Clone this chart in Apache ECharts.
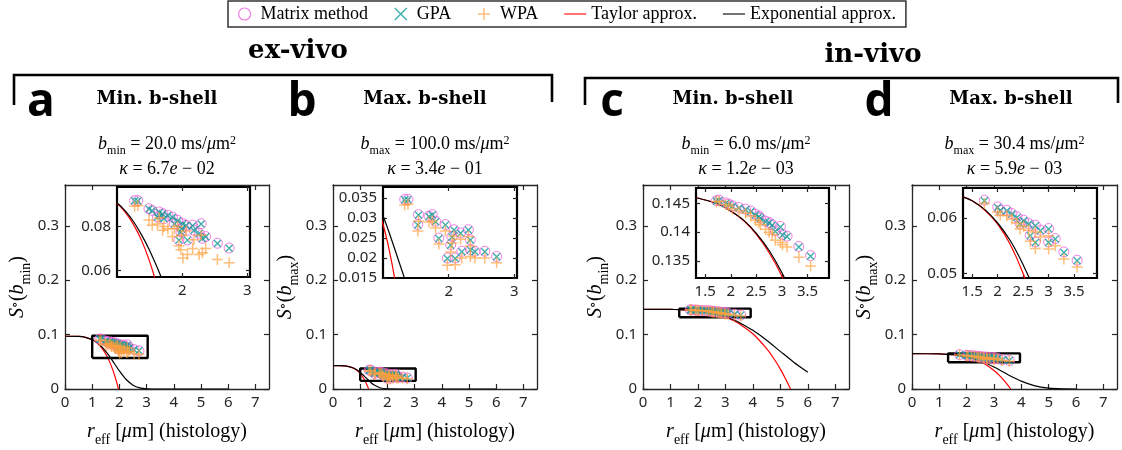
<!DOCTYPE html>
<html><head><meta charset="utf-8">
<script src="https://cdn.jsdelivr.net/npm/echarts@6/dist/echarts.min.js"></script>
<style>html,body{margin:0;padding:0;background:#fff}#c{width:1122px;height:450px}</style>
</head><body><div id="c"></div>
<script>
// ---------- DATA ----------
const legendNames = ['Matrix method', 'GPA', 'WPA', 'Taylor approx.', 'Exponential approx.'];

// panel a (ex-vivo, min b-shell)
const rA   = [1.27,1.32,1.49,1.54,1.62,1.65,1.70,1.72,1.78,1.85,1.88,1.93,1.95,1.98,1.99,2.01,2.06,2.08,2.16,2.18,2.26,2.29,2.31,2.36,2.54,2.72];
const mmA  = [0.0918,0.0918,0.0881,0.0873,0.0843,0.0866,0.0858,0.0836,0.0851,0.0843,0.0813,0.0828,0.0739,0.0776,0.0790,0.0813,0.0806,0.0739,0.0806,0.0783,0.0769,0.0813,0.0746,0.0754,0.0724,0.0702];
const gpaA = [0.0917,0.0916,0.0880,0.0872,0.0842,0.0864,0.0857,0.0835,0.0850,0.0842,0.0812,0.0826,0.0738,0.0775,0.0789,0.0811,0.0805,0.0738,0.0804,0.0782,0.0768,0.0811,0.0745,0.0753,0.0723,0.0701];
const wpaA = [0.0892,0.0896,0.0830,0.0806,0.0812,0.0840,0.0783,0.0800,0.0790,0.0754,0.0790,0.0800,0.0712,0.0694,0.0760,0.0657,0.0780,0.0672,0.0700,0.0740,0.0672,0.0760,0.0680,0.0700,0.0650,0.0635];
const taylorRA = [0,0.5,0.75,1,1.125,1.25,1.375,1.5,1.625,1.75,1.875,1.965];
const taylorSA = [0.0970,0.0966,0.0949,0.0905,0.0866,0.0811,0.0738,0.0641,0.0517,0.0360,0.0167,0];
const expRA = [0,0.5,0.75,1,1.125,1.25,1.375,1.5,1.625,1.75,2,2.25,2.5,2.75,3,3.5,4,5,6];
const expSA = [0.0970,0.0966,0.0950,0.0907,0.0871,0.0824,0.0763,0.0691,0.0608,0.0517,0.0332,0.0174,0.0071,0.0021,0.0004,0,0,0,0];

// panel b (ex-vivo, max b-shell)
const rB   = [1.33,1.38,1.53,1.54,1.70,1.75,1.80,1.85,1.95,1.98,2.03,2.05,2.08,2.10,2.18,2.20,2.30,2.33,2.33,2.40,2.55,2.73];
const mmB  = [0.0347,0.0347,0.0284,0.0309,0.0305,0.0309,0.0292,0.0250,0.0284,0.0200,0.0233,0.0254,0.0271,0.0200,0.0263,0.0217,0.0271,0.0246,0.0221,0.0217,0.0217,0.0204];
const gpaB = [0.0346,0.0346,0.0283,0.0308,0.0304,0.0308,0.0291,0.0249,0.0283,0.0199,0.0232,0.0253,0.0270,0.0199,0.0262,0.0216,0.0270,0.0245,0.0220,0.0216,0.0216,0.0203];
const wpaB = [0.0333,0.0335,0.0268,0.0292,0.0290,0.0293,0.0275,0.0235,0.0268,0.0182,0.0215,0.0238,0.0255,0.0183,0.0247,0.0200,0.0254,0.0230,0.0204,0.0200,0.0200,0.0188];
const taylorRB = [0,0.25,0.5,0.75,0.875,1,1.1,1.2,1.31];
const taylorSB = [0.0430,0.0429,0.0421,0.0384,0.0344,0.0284,0.0216,0.0127,0];
const expRB = [0,0.25,0.5,0.75,0.875,1,1.1,1.2,1.31,1.4,1.5,1.75,2,2.5,6];
const expSB = [0.0430,0.0429,0.0421,0.0386,0.0352,0.0306,0.0261,0.0212,0.0158,0.0116,0.0077,0.0018,0.0002,0,0];

// panel c (in-vivo, min b-shell)
const rC   = [1.72,1.77,1.90,1.96,2.03,2.16,2.29,2.39,2.48,2.55,2.58,2.68,2.75,2.81,2.87,2.97,3.01,3.10,3.33,3.56];
const mmC  = [0.1455,0.1456,0.1451,0.1449,0.1446,0.1443,0.1440,0.1437,0.1431,0.1428,0.1425,0.1419,0.1417,0.1413,0.1402,0.1410,0.1396,0.1393,0.1375,0.1359];
const gpaC = [0.1454,0.1455,0.1450,0.1448,0.1445,0.1442,0.1439,0.1436,0.1430,0.1427,0.1424,0.1418,0.1416,0.1412,0.1401,0.1409,0.1395,0.1392,0.1374,0.1358];
const wpaC = [0.1453,0.1454,0.1448,0.1445,0.1441,0.1437,0.1433,0.1428,0.1421,0.1417,0.1413,0.1405,0.1400,0.1396,0.1386,0.1382,0.1378,0.1374,0.1356,0.1341];
const taylorRC = [0,1,1.32,1.5,1.75,2,2.25,2.5,2.75,3,3.25,3.5,4,4.5,4.75,5,5.25,5.37];
const taylorSC = [0.1465,0.1463,0.1460,0.1456,0.1449,0.1437,0.1420,0.1396,0.1364,0.1323,0.1269,0.1201,0.1015,0.0744,0.0570,0.0366,0.0130,0];
const expRC = [0,1,1.32,1.5,1.75,2,2.25,2.5,2.75,3,3.25,3.5,4,4.5,5,5.5,6];
const expSC = [0.1465,0.1463,0.1460,0.1456,0.1449,0.1437,0.1421,0.1398,0.1368,0.1329,0.1281,0.1224,0.1078,0.0896,0.0692,0.0489,0.0309];

// panel d (in-vivo, max b-shell)
const rD   = [1.74,2.00,2.05,2.18,2.28,2.38,2.44,2.51,2.61,2.64,2.74,2.74,2.84,3.00,3.00,3.13,3.30,3.56];
const mmD  = [0.0632,0.0620,0.0614,0.0614,0.0608,0.0602,0.0590,0.0596,0.0590,0.0569,0.0587,0.0557,0.0578,0.0581,0.0557,0.0563,0.0539,0.0524];
const gpaD = [0.0631,0.0619,0.0613,0.0613,0.0607,0.0601,0.0589,0.0595,0.0589,0.0568,0.0586,0.0556,0.0577,0.0580,0.0556,0.0562,0.0538,0.0523];
const wpaD = [0.0626,0.0611,0.0605,0.0604,0.0598,0.0591,0.0580,0.0585,0.0578,0.0558,0.0575,0.0545,0.0566,0.0568,0.0544,0.0550,0.0526,0.0512];
const taylorRD = [0,1,1.32,1.5,1.75,2,2.25,2.5,2.75,3,3.25,3.5,3.61];
const taylorSD = [0.0650,0.0646,0.0638,0.0631,0.0614,0.0589,0.0552,0.0500,0.0431,0.0339,0.0222,0.0074,0];
const expRD = [0,1,1.32,1.5,1.75,2,2.25,2.5,2.75,3,3.25,3.5,3.75,4,4.5,5,5.5,6];
const expSD = [0.0650,0.0646,0.0638,0.0631,0.0615,0.0591,0.0559,0.0516,0.0464,0.0403,0.0337,0.0268,0.0202,0.0144,0.0058,0.0016,0.0003,0];

// tick labels
const xTicksMain = [0,1,2,3,4,5,6,7];
const yTicksMain = [0,0.1,0.2,0.3];
const insetXTicks = [[2,3],[2,3],[1.5,2,2.5,3,3.5],[1.5,2,2.5,3,3.5]];
const insetYTicks = [[0.06,0.08],[0.015,0.02,0.025,0.03,0.035],[0.135,0.14,0.145],[0.05,0.06]];
// inset (zoom) axis ranges
const insetXRange = [[1.0,3.04],[1.0,3.04],[1.32,3.92],[1.32,3.95]];
const insetYRange = [[0.057,0.098],[0.015,0.0378],[0.132,0.1477],[0.0492,0.0654]];

// text
const bLabels = ['min','max','min','max'];
const bValues = ['20.0','100.0','6.0','30.4'];
const kappaValues = ['6.7','3.4','1.2','5.9'];
const kappaExps = ['02','01','03','03'];
const shellTitles = ['Min. b-shell','Max. b-shell','Min. b-shell','Max. b-shell'];
const panelLetters = ['a','b','c','d'];
const groupTitles = ['ex-vivo','in-vivo'];

// ---------- LAYOUT / STYLE ----------
const SERIF = "'Liberation Serif','DejaVu Serif',serif";
const WSERIF = "'DejaVu Serif','Liberation Serif',serif";
const SANS = "'Noto Sans','DejaVu Sans',sans-serif";
const AX = '#262626';
const C_MM = '#f060dc', C_GPA = '#119a9a', C_WPA = 'rgba(255,160,60,0.85)';
const SYM_X = 'path://M0,0L10,10M10,0L0,10';
const SYM_P = 'path://M5,0L5,10M0,5L10,5';
const SYM_LINE = 'path://M0,0H44V2.2H0Z';

const mainGrids = [
  {left:65, top:185, width:204, height:204},
  {left:333, top:185, width:204, height:204},
  {left:643, top:185, width:206, height:204},
  {left:912, top:185, width:205, height:204}
];
const insetGrids = [
  {left:117, top:187, width:133, height:90},
  {left:383, top:187, width:134, height:91},
  {left:696, top:188, width:133, height:90},
  {left:963, top:188, width:134, height:90}
];

function rich(size){
  const s = Math.round(size*0.68);
  return {
    n:{fontFamily:SERIF,fontSize:size,color:'#000',verticalAlign:'top',lineHeight:size+2},
    i:{fontFamily:SERIF,fontSize:size,fontStyle:'italic',color:'#000',verticalAlign:'top',lineHeight:size+2},
    sub:{fontFamily:SERIF,fontSize:s,color:'#000',verticalAlign:'top',lineHeight:s,padding:[Math.round(size*0.55),0,0,0]},
    sup:{fontFamily:SERIF,fontSize:s,color:'#000',verticalAlign:'top',lineHeight:s,padding:[0,0,0,0]}
  };
}
const fmt = v => String(parseFloat((+v).toFixed(4)));
const zip = (a,b) => a.map((x,i)=>[x,b[i]]);

const panels = [
  {r:rA,mm:mmA,gpa:gpaA,wpa:wpaA,tR:taylorRA,tS:taylorSA,eR:expRA,eS:expSA},
  {r:rB,mm:mmB,gpa:gpaB,wpa:wpaB,tR:taylorRB,tS:taylorSB,eR:expRB,eS:expSB},
  {r:rC,mm:mmC,gpa:gpaC,wpa:wpaC,tR:taylorRC,tS:taylorSC,eR:expRC,eS:expSC},
  {r:rD,mm:mmD,gpa:gpaD,wpa:wpaD,tR:taylorRD,tS:taylorSD,eR:expRD,eS:expSD}
];

const grid = [], xAxis = [], yAxis = [], series = [];
mainGrids.forEach(g => grid.push(Object.assign({show:false}, g)));
insetGrids.forEach(g => grid.push(Object.assign({show:true, backgroundColor:'#fff', borderColor:'#000', borderWidth:2.2, z:5}, g)));

function axisPair(dim, gi, min, max, ticks, isInset, withName){
  const col = isInset ? '#000' : AX;
  const lw = isInset ? 2 : 1.3;
  const base = {
    type:'value', gridIndex:gi, min:min, max:max, z: isInset ? 6 : 1,
    splitLine:{show:false},
    axisLine:{show:true, onZero:false, lineStyle:{color:col, width:lw}},
    axisTick:{show:true, inside:true, length:isInset?4:5, customValues:ticks, lineStyle:{color:AX, width:1.2}}
  };
  const prim = Object.assign({}, base, {
    position: dim==='x' ? 'bottom' : 'left',
    axisLabel:{show:true, customValues:ticks, formatter:fmt, fontFamily:SANS, fontSize:15, color:AX, margin:6}
  });
  if (withName) Object.assign(prim, withName);
  const mirror = Object.assign({}, base, {
    position: dim==='x' ? 'top' : 'right',
    axisLabel:{show:false}
  });
  return [prim, mirror];
}

for (let p=0;p<4;p++){
  const xname = {name:'{i|r}{sub|eff}{n| [}{i|μ}{n|m] (histology)}', nameLocation:'middle', nameGap:33,
    nameTextStyle:{rich:rich(20)}};
  const yname = {name:'{i|S}{sup|∘}{n|(}{i|b}{sub|'+bLabels[p]+'}{n|)}', nameLocation:'middle', nameGap:35, nameRotate:90,
    nameTextStyle:{rich:rich(20)}};
  xAxis.push(...axisPair('x', p, 0, 7.5, xTicksMain, false, xname));
  yAxis.push(...axisPair('y', p, 0, 0.375, yTicksMain, false, yname));
}
for (let p=0;p<4;p++){
  xAxis.push(...axisPair('x', p+4, insetXRange[p][0], insetXRange[p][1], insetXTicks[p], true, null));
  yAxis.push(...axisPair('y', p+4, insetYRange[p][0], insetYRange[p][1], insetYTicks[p], true, null));
}

for (let p=0;p<4;p++){
  const d = panels[p];
  [p, p+4].forEach(gi => {
    const ai = gi*2;
    const zb = gi >= 4 ? 10 : 2;
    series.push({type:'line', name:'Taylor approx.', xAxisIndex:ai, yAxisIndex:ai, data:zip(d.tR,d.tS),
      symbol:'none', showSymbol:false, smooth:0.2, itemStyle:{color:'#ff0000'}, lineStyle:{color:'#ff0000', width:1.2}, z:zb, clip:true});
    series.push({type:'line', name:'Exponential approx.', xAxisIndex:ai, yAxisIndex:ai, data:zip(d.eR,d.eS),
      symbol:'none', showSymbol:false, smooth:0.2, itemStyle:{color:'#000'}, lineStyle:{color:'#000', width:1.2}, z:zb, clip:true});
    series.push({type:'scatter', name:'Matrix method', xAxisIndex:ai, yAxisIndex:ai, data:zip(d.r,d.mm),
      symbol:'circle', symbolSize:10, itemStyle:{color:'rgba(0,0,0,0)', borderColor:C_MM, borderWidth:1}, z:zb+1, clip:true});
    series.push({type:'scatter', name:'GPA', xAxisIndex:ai, yAxisIndex:ai, data:zip(d.r,d.gpa),
      symbol:SYM_X, symbolSize:7, itemStyle:{color:'rgba(0,0,0,0)', borderColor:C_GPA, borderWidth:1.4}, z:zb+2, clip:true});
    series.push({type:'scatter', name:'WPA', xAxisIndex:ai, yAxisIndex:ai, data:zip(d.r,d.wpa),
      symbol:SYM_P, symbolSize:11, itemStyle:{color:'rgba(0,0,0,0)', borderColor:C_WPA, borderWidth:1.5}, z:zb+3, clip:true});
  });
  const xr = insetXRange[p], yr = insetYRange[p];
  series.push({type:'line', name:'zoom-box', xAxisIndex:p*2, yAxisIndex:p*2,
    data:[[xr[0],yr[0]],[xr[1],yr[0]],[xr[1],yr[1]],[xr[0],yr[1]],[xr[0],yr[0]]],
    symbol:'none', showSymbol:false, lineStyle:{color:'#000', width:2.4}, z:3, silent:true});
}

// ---------- TEXT GRAPHICS ----------
const graphic = [];
function txt(x,y,text,opts){
  graphic.push({type:'text', x:x, y:y, silent:true, z:100, style:Object.assign({text:text, align:'center', verticalAlign:'middle', fill:'#000'}, opts)});
}
txt(298,51,groupTitles[0],{font:"bold 26px "+WSERIF});
txt(873,55,groupTitles[1],{font:"bold 26px "+WSERIF});
graphic.push({type:'polyline', silent:true, shape:{points:[[14,105],[14,75],[552,75],[552,102]]}, style:{stroke:'#000', lineWidth:2.6, fill:null}});
graphic.push({type:'polyline', silent:true, shape:{points:[[585,105],[585,78],[1118,78],[1118,103]]}, style:{stroke:'#000', lineWidth:2.6, fill:null}});
const letterX = [41,302,612,879];
const shellX = [157,425,733,1011];
for (let p=0;p<4;p++){
  const cx = mainGrids[p].left + mainGrids[p].width/2;
  txt(letterX[p], 103, panelLetters[p], {font:"bold 46px 'Open Sans','Noto Sans',sans-serif"});
  txt(shellX[p], 99, shellTitles[p], {font:"bold 18px "+WSERIF});
  txt(cx, 145, '{i|b}{sub|'+bLabels[p]+'}{n| = '+bValues[p]+' ms/}{i|μ}{n|m}{sup|2}', {rich:rich(18)});
  txt(cx, 170, '{i|κ}{n| = '+kappaValues[p]+'}{i|e}{n| − '+kappaExps[p]+'}', {rich:rich(18)});
}

const option = {
  animation:false,
  backgroundColor:'#fff',
  legend:{
    left:228, top:1, padding:[4,10,4,10], itemGap:26, itemWidth:22, itemHeight:12,
    borderColor:'#333', borderWidth:1.5, backgroundColor:'#fff',
    textStyle:{fontFamily:SERIF, fontSize:18, color:'#000'},
    data:[
      {name:legendNames[0], icon:'circle', itemStyle:{color:'rgba(0,0,0,0)', borderColor:C_MM, borderWidth:1.2}},
      {name:legendNames[1], icon:SYM_X, itemStyle:{color:'rgba(0,0,0,0)', borderColor:C_GPA, borderWidth:1.4}},
      {name:legendNames[2], icon:SYM_P, itemStyle:{color:'rgba(0,0,0,0)', borderColor:C_WPA, borderWidth:1.5}},
      {name:legendNames[3], icon:SYM_LINE, itemStyle:{color:'#ff0000', borderWidth:0}},
      {name:legendNames[4], icon:SYM_LINE, itemStyle:{color:'#000', borderWidth:0}}
    ]
  },
  grid:grid, xAxis:xAxis, yAxis:yAxis, series:series, graphic:graphic
};
const chart = echarts.init(document.getElementById('c'), null, {renderer:'canvas'});
chart.setOption(option);
</script></body></html>
